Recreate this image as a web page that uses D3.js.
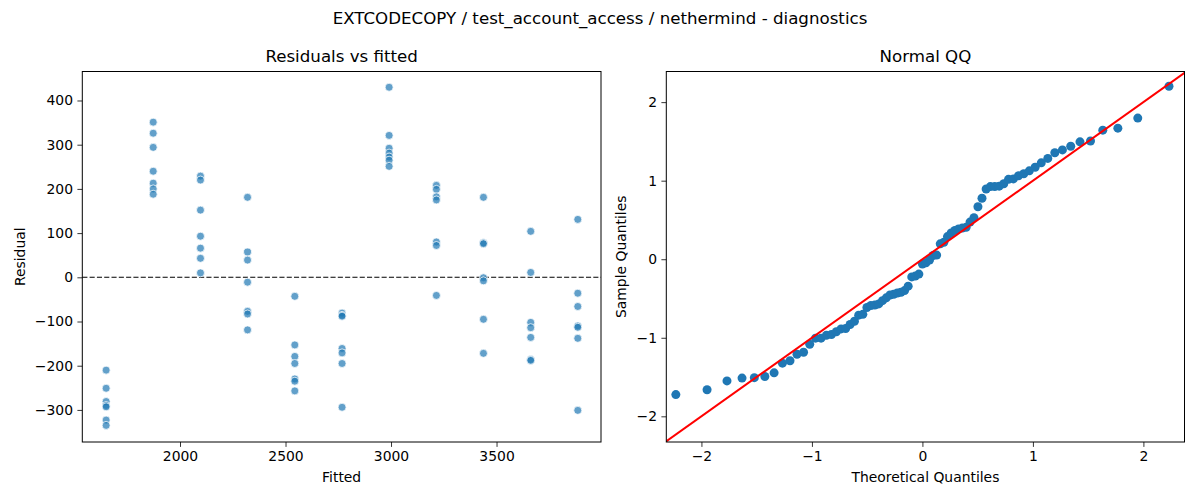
<!DOCTYPE html>
<html>
<head>
<meta charset="utf-8">
<script src="https://cdn.jsdelivr.net/npm/d3@7"></script>
<style>
  html, body { margin: 0; padding: 0; background: #fff; }
  svg { display: block; font-family: "DejaVu Sans", sans-serif; }
</style>
</head>
<body>
<svg id="chart" width="1200" height="500"></svg>
<script>
// ---------- data ----------
const chartTitle = "EXTCODECOPY / test_account_access / nethermind - diagnostics";
const fittedValues = [1650, 1873, 2097, 2320, 2544, 2768, 2991, 3215, 3438, 3662, 3885];
const residualsByFit = [
  [-210, -251, -281, -290, -293, -323, -335],
  [351, 326, 294, 240, 213, 200, 188],
  [229, 220, 152, 93, 66, 43, 10],
  [181, 57, 39, -11, -77, -83, -119],
  [-43, -153, -179, -195, -230, -235, -257],
  [-81, -86, -88, -161, -171, -195, -294],
  [430, 321, 292, 281, 272, 265, 251],
  [208, 199, 182, 175, 80, 72, -41],
  [181, 78, 76, -1, -8, -95, -172],
  [104, 11, -102, -114, -136, -186, -188],
  [131, -36, -66, -110, -113, -138, -301]
];
const residTicks = [-300, -200, -100, 0, 100, 200, 300, 400];
const fittedTicks = [2000, 2500, 3000, 3500];
const qqTicks = [-2, -1, 0, 1, 2];

// ---------- helpers ----------
function invNorm(p) {
  const a = [-3.969683028665376e+01, 2.209460984245205e+02, -2.759285104469687e+02, 1.383577518672690e+02, -3.066479806614716e+01, 2.506628277459239e+00];
  const b = [-5.447609879822406e+01, 1.615858368580409e+02, -1.556989798598866e+02, 6.680131188771972e+01, -1.328068155288572e+01];
  const c = [-7.784894002430293e-03, -3.223964580411365e-01, -2.400758277161838e+00, -2.549732539343734e+00, 4.374664141464968e+00, 2.938163982698783e+00];
  const d = [7.784695709041462e-03, 3.224671290700398e-01, 2.445134137142996e+00, 3.754408661907416e+00];
  const pl = 0.02425, ph = 1 - pl;
  let q, r;
  if (p < pl) {
    q = Math.sqrt(-2 * Math.log(p));
    return (((((c[0]*q+c[1])*q+c[2])*q+c[3])*q+c[4])*q+c[5]) / ((((d[0]*q+d[1])*q+d[2])*q+d[3])*q+1);
  } else if (p <= ph) {
    q = p - 0.5; r = q * q;
    return (((((a[0]*r+a[1])*r+a[2])*r+a[3])*r+a[4])*r+a[5])*q / (((((b[0]*r+b[1])*r+b[2])*r+b[3])*r+b[4])*r+1);
  } else {
    q = Math.sqrt(-2 * Math.log(1 - p));
    return -(((((c[0]*q+c[1])*q+c[2])*q+c[3])*q+c[4])*q+c[5]) / ((((d[0]*q+d[1])*q+d[2])*q+d[3])*q+1);
  }
}

const points = [];
fittedValues.forEach((f, i) => residualsByFit[i].forEach(r => points.push({ fitted: f, resid: r })));

const allRes = points.map(p => p.resid);
const n = allRes.length;
const mu = d3.mean(allRes);
const sd = Math.sqrt(d3.mean(allRes, v => (v - mu) ** 2));
const sorted = allRes.slice().sort(d3.ascending);
const qq = sorted.map((v, i) => ({ th: invNorm((i + 1) / (n + 1)), sa: (v - mu) / sd }));

// ---------- drawing ----------
const svg = d3.select("#chart");
const FONT = 13.9;

svg.append("text").attr("x", 600).attr("y", 24).attr("text-anchor", "middle")
  .attr("font-size", 16.67).attr("fill", "#000").text(chartTitle);

function frame(g, L, R, T, B) {
  g.append("rect").attr("x", L).attr("y", T).attr("width", R - L).attr("height", B - T)
    .attr("fill", "none").attr("stroke", "#000").attr("stroke-width", 1);
}

function axes(g, x, y, xt, yt, xfmt, yfmt, L, B) {
  const minus = v => String(v).replace("-", "\u2212");
  const xa = g.append("g").attr("transform", `translate(0,${B})`)
    .call(d3.axisBottom(x).tickValues(xt).tickSize(4.9).tickPadding(4.4).tickFormat(v => minus(xfmt(v))));
  const ya = g.append("g").attr("transform", `translate(${L},0)`)
    .call(d3.axisLeft(y).tickValues(yt).tickSize(4.9).tickPadding(4.4).tickFormat(v => minus(yfmt(v))));
  [xa, ya].forEach(a => {
    a.select(".domain").remove();
    a.selectAll("line").attr("stroke", "#000").attr("stroke-width", 0.8);
    a.selectAll("text").attr("font-size", FONT).attr("fill", "#000")
      .attr("font-family", "DejaVu Sans, sans-serif");
  });
}

// Left: residuals vs fitted
{
  const L = 82.3, R = 601, T = 71.5, B = 442;
  const x = d3.scaleLinear().domain([1537, 3995]).range([L, R]);
  const y = d3.scaleLinear().domain([-372.6, 465.6]).range([B, T]);
  const g = svg.append("g");
  g.append("defs").append("clipPath").attr("id", "clipL")
    .append("rect").attr("x", L).attr("y", T).attr("width", R - L).attr("height", B - T);

  g.append("line").attr("x1", L).attr("x2", R).attr("y1", y(0)).attr("y2", y(0))
    .attr("stroke", "#000").attr("stroke-width", 1.1).attr("stroke-dasharray", "5.1,2.2");

  g.append("g").attr("clip-path", "url(#clipL)").selectAll("circle").data(points).join("circle")
    .attr("cx", d => x(d.fitted)).attr("cy", d => y(d.resid)).attr("r", 4.0)
    .attr("fill", "#1f77b4").attr("fill-opacity", 0.7)
    .attr("stroke", "#fff").attr("stroke-width", 0.75);

  frame(g, L, R, T, B);
  axes(g, x, y, fittedTicks, residTicks, d => d, d => d, L, B);

  g.append("text").attr("x", (L + R) / 2).attr("y", 62).attr("text-anchor", "middle")
    .attr("font-size", 16.67).text("Residuals vs fitted");
  g.append("text").attr("x", (L + R) / 2).attr("y", 482).attr("text-anchor", "middle")
    .attr("font-size", FONT).text("Fitted");
  g.append("text").attr("transform", `translate(25,${(T + B) / 2}) rotate(-90)`)
    .attr("text-anchor", "middle").attr("font-size", FONT).text("Residual");
}

// Right: Normal QQ
{
  const L = 666.3, R = 1184.5, T = 71.5, B = 442;
  const x = d3.scaleLinear().domain([-2.318, 2.372]).range([L, R]);
  const y = d3.scaleLinear().domain([-2.327, 2.39]).range([B, T]);
  const g = svg.append("g");
  g.append("defs").append("clipPath").attr("id", "clipR")
    .append("rect").attr("x", L).attr("y", T).attr("width", R - L).attr("height", B - T);
  const cg = g.append("g").attr("clip-path", "url(#clipR)");

  cg.selectAll("circle").data(qq).join("circle")
    .attr("cx", d => x(d.th)).attr("cy", d => y(d.sa)).attr("r", 4.5)
    .attr("fill", "#1f77b4");

  cg.append("line").attr("x1", x(-2.5)).attr("y1", y(-2.5)).attr("x2", x(2.5)).attr("y2", y(2.5))
    .attr("stroke", "#ff0000").attr("stroke-width", 2);

  frame(g, L, R, T, B);
  axes(g, x, y, qqTicks, qqTicks, d => d, d => d, L, B);

  g.append("text").attr("x", (L + R) / 2).attr("y", 62).attr("text-anchor", "middle")
    .attr("font-size", 16.67).text("Normal QQ");
  g.append("text").attr("x", (L + R) / 2).attr("y", 482).attr("text-anchor", "middle")
    .attr("font-size", FONT).text("Theoretical Quantiles");
  g.append("text").attr("transform", `translate(626,${(T + B) / 2}) rotate(-90)`)
    .attr("text-anchor", "middle").attr("font-size", FONT).text("Sample Quantiles");
}
</script>
</body>
</html>
